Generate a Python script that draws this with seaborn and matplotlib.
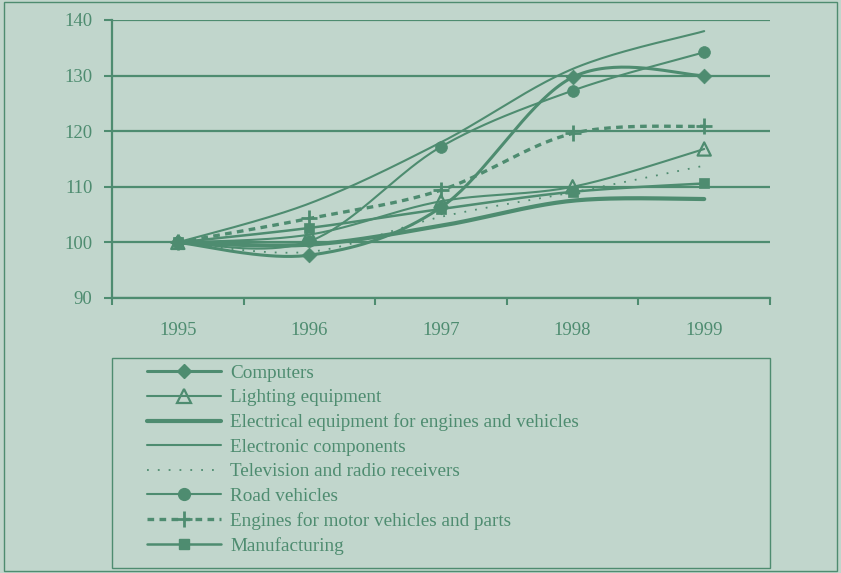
import numpy as np
import pandas as pd
import matplotlib
matplotlib.use("Agg")
import matplotlib.pyplot as plt
import seaborn as sns
from matplotlib.lines import Line2D
from matplotlib.patches import Rectangle

# ---- data (index, 1995 = 100) ----
years = ["1995", "1996", "1997", "1998", "1999"]
computers = [100.0, 97.7, 106.3, 129.7, 130.0]
lighting = [100.0, 101.4, 107.4, 110.0, 116.8]
electrical = [100.0, 99.6, 103.0, 107.5, 107.8]
electronic = [100.0, 107.0, 118.0, 131.2, 138.0]
television = [100.0, 98.3, 104.6, 109.0, 113.8]
road_vehicles = [100.0, 100.2, 117.2, 127.3, 134.2]
engines = [100.0, 104.3, 109.4, 119.6, 120.9]
manufacturing = [100.0, 102.6, 106.0, 109.1, 110.6]

labels = ["Computers", "Lighting equipment",
          "Electrical equipment for engines and vehicles",
          "Electronic components", "Television and radio receivers",
          "Road vehicles", "Engines for motor vehicles and parts",
          "Manufacturing"]
series = [computers, lighting, electrical, electronic, television,
          road_vehicles, engines, manufacturing]

GREEN = "#4E8C70"
BG = "#C1D6CC"

# style per series: (linewidth, linestyle, marker, markersize, filled)
styles = [
    (2.2, "-", "D", 7.5, True),
    (1.5, "-", "^", 9.5, False),
    (3.0, "-", None, 0, True),
    (1.5, "-", None, 0, True),
    (1.3, (0, (1, 5)), None, 0, True),
    (1.5, "-", "o", 8.5, True),
    (2.4, (0, (2, 1.6)), "+", 11, True),
    (1.8, "-", "s", 7.0, True),
]


def smooth(x, y, n=40):
    """Excel-style smoothed Bezier path through the data points."""
    P = np.column_stack([np.asarray(x, float), np.asarray(y, float)])
    out = [P[0]]
    t = np.linspace(0, 1, n)[1:, None]
    for i in range(len(P) - 1):
        p0 = P[i - 1] if i > 0 else P[i]
        p3 = P[i + 2] if i + 2 < len(P) else P[i + 1]
        c1 = P[i] + (P[i + 1] - p0) / 6.0
        c2 = P[i + 1] - (p3 - P[i]) / 6.0
        seg = ((1 - t) ** 3) * P[i] + 3 * ((1 - t) ** 2) * t * c1 \
            + 3 * (1 - t) * t ** 2 * c2 + t ** 3 * P[i + 1]
        out.extend(seg)
    out = np.array(out)
    return out[:, 0], out[:, 1]


sns.set_theme(style="white")
plt.rcParams["font.family"] = ["Liberation Serif", "DejaVu Serif"]
plt.rcParams["text.color"] = GREEN

W, H = 841, 573
fig = plt.figure(figsize=(W / 100, H / 100), dpi=100)
fig.patch.set_facecolor(BG)

ax = fig.add_axes([112 / W, 1 - 298 / H, 658 / W, 278 / H])
ax.set_facecolor(BG)

xidx = np.arange(len(years))

ax.set_ylim(90, 140)
ax.set_xlim(-0.5, len(years) - 0.5)
ax.set_yticks([90, 100, 110, 120, 130, 140])
ax.yaxis.grid(True, color=GREEN, linewidth=1.6)
ax.xaxis.grid(False)
ax.set_axisbelow(True)

for vals, (lw, ls, mk, ms, filled) in zip(series, styles):
    sx, sy = smooth(xidx, vals)
    df = pd.DataFrame({"x": sx, "y": sy})
    sns.lineplot(data=df, x="x", y="y", ax=ax, color=GREEN, linewidth=lw,
                 linestyle=ls, sort=False, estimator=None, zorder=3)
    if mk is not None:
        pts = pd.DataFrame({"x": xidx, "y": vals})
        if mk == "+":
            sns.scatterplot(data=pts, x="x", y="y", ax=ax, marker="+",
                            s=ms ** 2, color=GREEN, linewidth=2.0, zorder=4)
        elif filled:
            sns.scatterplot(data=pts, x="x", y="y", ax=ax, marker=mk,
                            s=ms ** 2, color=GREEN, edgecolor=GREEN,
                            linewidth=0.5, zorder=4)
        else:
            sns.scatterplot(data=pts, x="x", y="y", ax=ax, marker=mk,
                            s=ms ** 2, facecolor="none", edgecolor=GREEN,
                            linewidth=1.6, zorder=4)

ax.set_xlabel("")
ax.set_ylabel("")
ax.set_xticks(xidx)
ax.set_xticklabels(years)
ax.set_xticks(np.arange(-0.5, len(years)), minor=True)
ax.tick_params(axis="x", which="major", length=0, pad=17, labelsize=13.5,
               labelcolor=GREEN)
ax.tick_params(axis="x", which="minor", length=5, width=1.5, color=GREEN,
               direction="out", bottom=True)
ax.tick_params(axis="y", which="major", length=6, width=1.5, color=GREEN,
               direction="out", pad=8, labelsize=13.5, labelcolor=GREEN,
               left=True)

for side in ["top", "right"]:
    ax.spines[side].set_visible(False)
for side in ["left", "bottom"]:
    ax.spines[side].set_visible(True)
    ax.spines[side].set_color(GREEN)
    ax.spines[side].set_linewidth(1.6)

# legend
handles = []
for (lw, ls, mk, ms, filled) in styles:
    if mk is None:
        h = Line2D([], [], color=GREEN, linewidth=lw, linestyle=ls)
    elif mk == "+":
        h = Line2D([], [], color=GREEN, linewidth=lw, linestyle=ls,
                   marker="+", markersize=ms, markeredgewidth=2.0)
    elif filled:
        h = Line2D([], [], color=GREEN, linewidth=lw, linestyle=ls,
                   marker=mk, markersize=ms, markerfacecolor=GREEN,
                   markeredgecolor=GREEN)
    else:
        h = Line2D([], [], color=GREEN, linewidth=lw, linestyle=ls,
                   marker=mk, markersize=ms, markerfacecolor="none",
                   markeredgecolor=GREEN, markeredgewidth=1.6)
    handles.append(h)

leg = fig.legend(handles, labels, loc="upper left",
                 bbox_to_anchor=(147 / W, 1 - 364.5 / H), frameon=False,
                 fontsize=13.8, handlelength=3.85, handletextpad=0.5,
                 labelspacing=0.37, borderpad=0, borderaxespad=0)
for txt in leg.get_texts():
    txt.set_color(GREEN)

# legend box and figure border
fig.add_artist(Rectangle((112 / W, 1 - 568 / H), 658 / W, 210 / H,
                         transform=fig.transFigure, fill=False,
                         edgecolor=GREEN, linewidth=1.0))
fig.add_artist(Rectangle((4 / W, 2 / H), 833 / W, 569 / H,
                         transform=fig.transFigure, fill=False,
                         edgecolor=GREEN, linewidth=1.0))

fig.savefig("out.png", dpi=100, facecolor=BG)
